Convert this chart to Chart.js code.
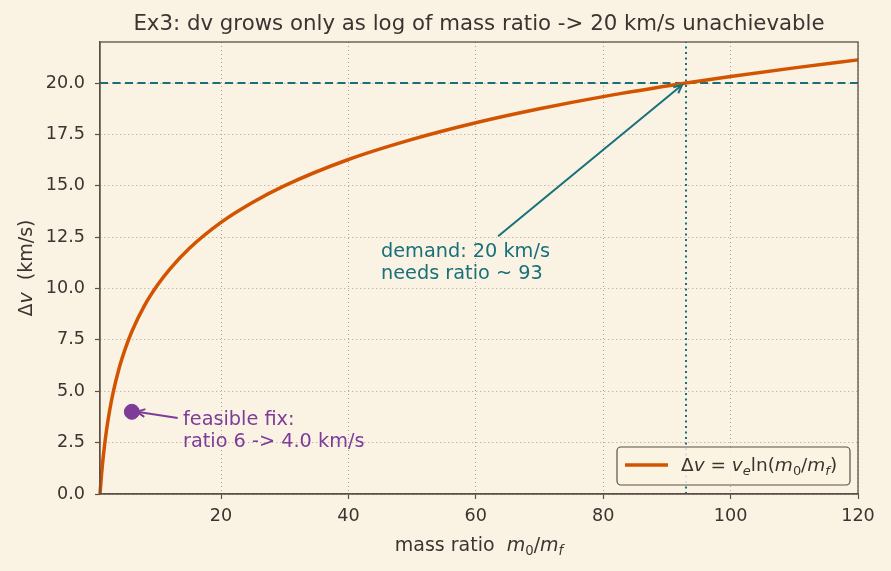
<!DOCTYPE html>
<html>
<head>
<meta charset="utf-8">
<script src="https://cdn.jsdelivr.net/npm/chart.js@4/dist/chart.umd.min.js"></script>
<style>
  html, body { margin: 0; padding: 0; background: #faf3e3; }
  #wrap { width: 891px; height: 571px; }
</style>
</head>
<body>
<div id="wrap"><canvas id="c" width="891" height="571"></canvas></div>
<script>
// values
const ratios = [1, 1.25, 1.5, 2, 2.5, 3, 4, 5, 6, 8, 10, 12, 15, 20, 25, 30, 40, 50, 60, 70, 80, 93, 100, 110, 120];
const deltaV = [0, 0.98, 1.79, 3.06, 4.04, 4.85, 6.12, 7.10, 7.91, 9.18, 10.16, 10.96, 11.95, 13.22, 14.20, 15.01, 16.28, 17.26, 18.07, 18.75, 19.34, 20.0, 20.32, 20.74, 21.13];
const targetDv = 20;
const neededRatio = 93;
const fixPoint = [6, 4.0];
const xTicks = [20, 40, 60, 80, 100, 120];
const yTicks = [0, 2.5, 5, 7.5, 10, 12.5, 15, 17.5, 20];

const BG = '#faf3e3';
const INK = '#3b3430';
const FRAME = '#5c4f45';
const ORANGE = '#d35400';
const TEAL = '#17707a';
const PURPLE = '#7d3c98';
const GRID = '#aaa296';
const FONT = '"DejaVu Sans", sans-serif';

function drawRich(ctx, parts, x, y, size, align) {
    let w = 0;
    const fonts = parts.map(p => {
        const s = p.sub ? size * 0.7 : size;
        const f = (p.italic ? 'italic ' : '') + s + 'px ' + FONT;
        ctx.font = f;
        const pw = ctx.measureText(p.t).width;
        w += pw;
        return { f, pw };
    });
    let cx = align === 'center' ? x - w / 2 : x;
    ctx.textAlign = 'left';
    ctx.textBaseline = 'alphabetic';
    parts.forEach((p, i) => {
        ctx.font = fonts[i].f;
        ctx.fillText(p.t, cx, p.sub ? y + size * 0.22 : y);
        cx += fonts[i].pw;
    });
}

function arrow(ctx, x1, y1, x2, y2, color, width) {
    ctx.strokeStyle = color;
    ctx.lineWidth = width;
    ctx.setLineDash([]);
    ctx.beginPath();
    ctx.moveTo(x1, y1);
    ctx.lineTo(x2, y2);
    ctx.stroke();
    const a = Math.atan2(y2 - y1, x2 - x1);
    const h = 9;
    ctx.beginPath();
    ctx.moveTo(x2 - h * Math.cos(a - 0.45), y2 - h * Math.sin(a - 0.45));
    ctx.lineTo(x2, y2);
    ctx.lineTo(x2 - h * Math.cos(a + 0.45), y2 - h * Math.sin(a + 0.45));
    ctx.stroke();
}

const decor = {
    id: 'decor',
    beforeDraw(chart) {
        const ctx = chart.ctx;
        ctx.save();
        ctx.fillStyle = BG;
        ctx.fillRect(0, 0, chart.width, chart.height);
        ctx.restore();
    },
    afterDraw(chart) {
        const ctx = chart.ctx;
        const { left, right, top, bottom } = chart.chartArea;
        const xs = chart.scales.x, ys = chart.scales.y;
        ctx.save();

        // frame top/right
        ctx.strokeStyle = FRAME;
        ctx.lineWidth = 1.3;
        ctx.strokeRect(left, top, right - left, bottom - top);

        // title
        ctx.fillStyle = INK;
        ctx.font = '21.3px ' + FONT;
        ctx.textAlign = 'center';
        ctx.textBaseline = 'alphabetic';
        ctx.fillText('Ex3: dv grows only as log of mass ratio -> 20 km/s unachievable', (left + right) / 2, 30);

        // axis titles
        drawRich(ctx, [{ t: 'mass ratio  ' }, { t: 'm', italic: true }, { t: '0', sub: true }, { t: '/' }, { t: 'm', italic: true }, { t: 'f', italic: true, sub: true }], (left + right) / 2, 551, 19, 'center');
        ctx.save();
        ctx.translate(32, (top + bottom) / 2);
        ctx.rotate(-Math.PI / 2);
        drawRich(ctx, [{ t: 'Δ' }, { t: 'v', italic: true }, { t: '  (km/s)' }], 0, 0, 19, 'center');
        ctx.restore();

        // annotations
        ctx.fillStyle = TEAL;
        ctx.font = '19.3px ' + FONT;
        ctx.textAlign = 'left';
        ctx.fillText('demand: 20 km/s', 381, 257);
        ctx.fillText('needs ratio ~ 93', 381, 279);
        arrow(ctx, xs.getPixelForValue(63.5), ys.getPixelForValue(12.55), xs.getPixelForValue(neededRatio) - 4, ys.getPixelForValue(targetDv) + 2, TEAL, 2);

        ctx.fillStyle = PURPLE;
        ctx.fillText('feasible fix:', 183, 425);
        ctx.fillText('ratio 6 -> 4.0 km/s', 183, 447);
        arrow(ctx, xs.getPixelForValue(13.2), ys.getPixelForValue(3.7), xs.getPixelForValue(fixPoint[0]) + 5, ys.getPixelForValue(fixPoint[1]), PURPLE, 2);

        // legend
        const lx = 617, ly = 447, lw = 233, lh = 38;
        ctx.fillStyle = 'rgba(250,243,227,0.85)';
        ctx.strokeStyle = FRAME;
        ctx.lineWidth = 1.2;
        ctx.beginPath();
        ctx.roundRect(lx, ly, lw, lh, 4);
        ctx.fill();
        ctx.stroke();
        ctx.strokeStyle = ORANGE;
        ctx.lineWidth = 3.5;
        ctx.beginPath();
        ctx.moveTo(625, 465);
        ctx.lineTo(668, 465);
        ctx.stroke();
        ctx.fillStyle = INK;
        drawRich(ctx, [{ t: 'Δ' }, { t: 'v', italic: true }, { t: ' = ' }, { t: 'v', italic: true }, { t: 'e', italic: true, sub: true }, { t: 'ln(' }, { t: 'm', italic: true }, { t: '0', sub: true }, { t: '/' }, { t: 'm', italic: true }, { t: 'f', italic: true, sub: true }, { t: ')' }], 681, 471, 18.5, 'left');

        ctx.restore();
    }
};

const gridOpts = { color: GRID, lineWidth: 1, tickColor: FRAME, tickLength: 5, tickWidth: 1.2 };
const borderOpts = { color: FRAME, width: 1.3, dash: [1, 3] };

const ctx = document.getElementById('c').getContext('2d');
new Chart(ctx, {
    type: 'scatter',
    data: {
        datasets: [
            {
                label: 'fix',
                data: [{ x: fixPoint[0], y: fixPoint[1] }],
                backgroundColor: PURPLE,
                borderColor: PURPLE,
                pointRadius: 7.5,
                order: 0
            },
            {
                label: 'curve',
                type: 'line',
                data: ratios.map((r, i) => ({ x: r, y: deltaV[i] })),
                borderColor: ORANGE,
                borderWidth: 3.5,
                pointRadius: 0,
                cubicInterpolationMode: 'monotone',
                clip: 4,
                order: 1
            },
            {
                label: 'target',
                type: 'line',
                data: [{ x: 1, y: targetDv }, { x: 120, y: targetDv }],
                borderColor: TEAL,
                borderWidth: 2,
                borderDash: [8, 4.5],
                pointRadius: 0,
                order: 2
            },
            {
                label: 'needed',
                type: 'line',
                data: [{ x: neededRatio, y: 0 }, { x: neededRatio, y: 22 }],
                borderColor: TEAL,
                borderWidth: 2,
                borderDash: [2, 3.5],
                pointRadius: 0,
                order: 2
            }
        ]
    },
    options: {
        responsive: false,
        animation: false,
        layout: { padding: { top: 42, right: 33, left: 0, bottom: 0 } },
        plugins: { legend: { display: false }, tooltip: { enabled: false } },
        scales: {
            x: {
                type: 'linear',
                min: 1,
                max: 120,
                afterBuildTicks: axis => { axis.ticks = xTicks.map(v => ({ value: v })); },
                afterFit: axis => { axis.height = 77; },
                grid: gridOpts,
                border: borderOpts,
                ticks: { color: INK, font: { family: FONT, size: 17.6 }, padding: 7, maxRotation: 0 }
            },
            y: {
                min: 0,
                max: 22,
                afterBuildTicks: axis => { axis.ticks = yTicks.map(v => ({ value: v })); },
                afterFit: axis => { axis.width = 100; },
                grid: gridOpts,
                border: borderOpts,
                ticks: { color: INK, font: { family: FONT, size: 17.6 }, padding: 10, callback: v => v.toFixed(1) }
            }
        }
    },
    plugins: [decor]
});
</script>
</body>
</html>
